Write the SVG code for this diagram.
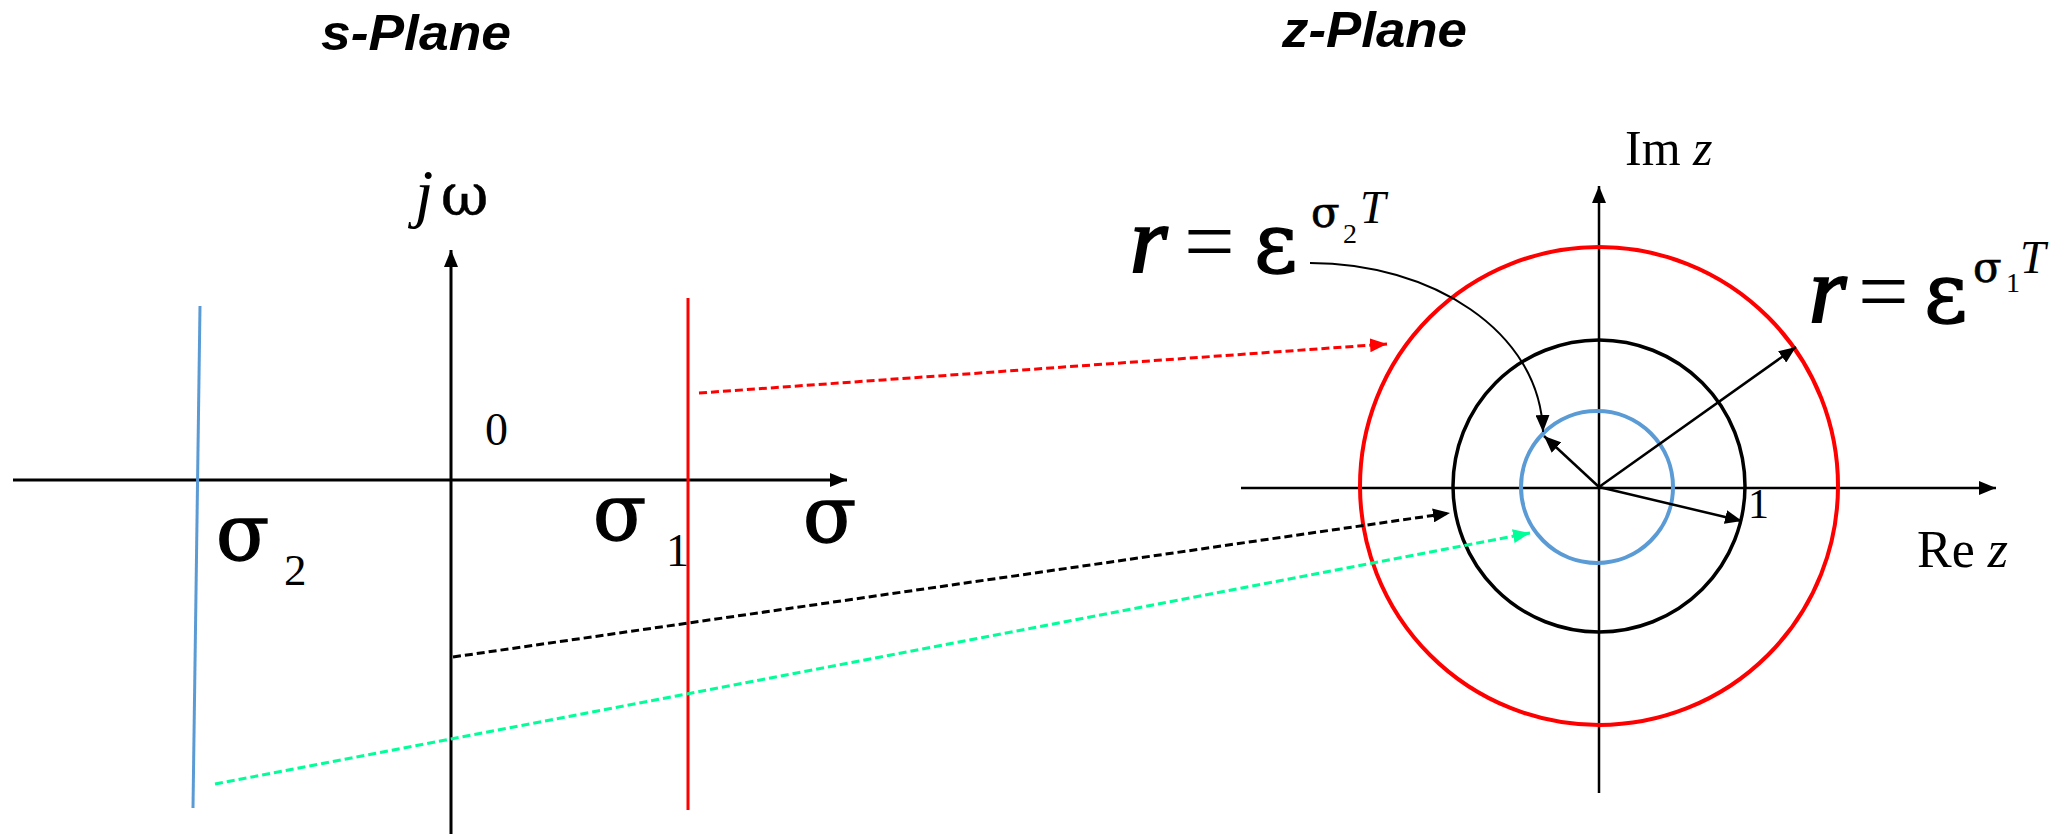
<svg xmlns="http://www.w3.org/2000/svg" width="2062" height="834" viewBox="0 0 2062 834">
<style>
.title{font-family:"Liberation Sans",Arial,sans-serif;font-weight:bold;font-style:italic;font-size:50px;fill:#000}
.m{font-family:"Liberation Serif","Times New Roman",serif;fill:#000}
.g{font-family:"DejaVu Serif","Liberation Serif",serif;fill:#000;stroke:#000;stroke-width:1.4}
.gs{font-family:"DejaVu Serif","Liberation Serif",serif;fill:#000;stroke:#000;stroke-width:0.6}
.it{font-style:italic}
.rr{font-family:"Liberation Serif","Times New Roman",serif;font-style:italic;fill:#000;stroke:#000;stroke-width:2.2}
.ax{stroke:#000;stroke-width:3;fill:none}
.zax{stroke:#000;stroke-width:2.5;fill:none}
.dash{stroke-width:3;stroke-dasharray:8 4;fill:none}
</style>
<defs>
<marker id="ak" markerUnits="userSpaceOnUse" markerWidth="18" markerHeight="14" refX="17" refY="7" orient="auto"><path d="M0,0 L17,7 L0,14 z" fill="#000"/></marker>
<marker id="ar" markerUnits="userSpaceOnUse" markerWidth="18" markerHeight="14" refX="17" refY="7" orient="auto"><path d="M0,0 L17,7 L0,14 z" fill="#ff0000"/></marker>
<marker id="ag" markerUnits="userSpaceOnUse" markerWidth="18" markerHeight="14" refX="17" refY="7" orient="auto"><path d="M0,0 L17,7 L0,14 z" fill="#00ff99"/></marker>
</defs>
<rect width="2062" height="834" fill="#fff"/>

<g id="s-plane">
<text class="title" x="321" y="50" textLength="190" lengthAdjust="spacingAndGlyphs">s-Plane</text>
<line class="ax" x1="13" y1="480" x2="847" y2="480" marker-end="url(#ak)"/>
<line class="ax" x1="451" y1="834" x2="451" y2="250" marker-end="url(#ak)"/>
<line x1="200" y1="306" x2="193" y2="808" stroke="#5b9bd5" stroke-width="3"/>
<line x1="688" y1="298" x2="688" y2="810" stroke="#ff0000" stroke-width="3"/>
<text class="m it" font-size="66" x="415" y="215">j</text>
<text class="gs" font-size="58" x="441" y="215">ω</text>
<text class="m" font-size="46" x="485" y="445">0</text>
<text class="g" font-size="78" x="216" y="560">σ</text>
<text class="m" font-size="45" x="284" y="585">2</text>
<text class="g" font-size="78" x="593" y="540">σ</text>
<text class="m" font-size="46" x="666" y="566">1</text>
<text class="g" font-size="78" x="803" y="542">σ</text>
</g>

<g id="z-plane">
<text class="title" x="1282" y="47" textLength="185" lengthAdjust="spacingAndGlyphs">z-Plane</text>
<line class="zax" x1="1241" y1="488" x2="1996" y2="488" marker-end="url(#ak)"/>
<line class="zax" x1="1599" y1="793" x2="1599" y2="186" marker-end="url(#ak)"/>
<circle cx="1599" cy="486" r="239" fill="none" stroke="#ff0000" stroke-width="4"/>
<circle cx="1599" cy="486" r="146" fill="none" stroke="#000" stroke-width="3.5"/>
<circle cx="1597" cy="487" r="76" fill="none" stroke="#5b9bd5" stroke-width="4"/>
<text class="m" font-size="50" x="1625" y="165">Im <tspan class="it">z</tspan></text>
<text class="m" font-size="52" x="1917" y="567">Re <tspan class="it">z</tspan></text>
<text class="m" font-size="42" x="1748" y="518">1</text>
</g>

<g id="label-r2">
<text class="rr" font-size="96" x="1130" y="272">r</text>
<text class="m" font-size="90" x="1184" y="272">=</text>
<text class="g" font-size="84" x="1254" y="272">ε</text>
<text class="gs" font-size="42" x="1311" y="227">σ</text>
<text class="m" font-size="28" x="1343" y="243">2</text>
<text class="m it" font-size="46" x="1360" y="223">T</text>
</g>

<g id="label-r1">
<text class="rr" font-size="96" x="1809" y="322">r</text>
<text class="m" font-size="90" x="1858" y="322">=</text>
<text class="g" font-size="84" x="1924" y="322">ε</text>
<text class="gs" font-size="42" x="1973" y="282">σ</text>
<text class="m" font-size="28" x="2006" y="292">1</text>
<text class="m it" font-size="46" x="2020" y="273">T</text>
</g>

<g id="connectors">
<line class="dash" x1="699" y1="393" x2="1387" y2="344" stroke="#ff0000" marker-end="url(#ar)"/>
<line class="dash" x1="453" y1="657" x2="1450" y2="513" stroke="#000" marker-end="url(#ak)"/>
<line class="dash" x1="215" y1="784" x2="1530" y2="533" stroke="#00ff99" marker-end="url(#ag)"/>
<line x1="1599" y1="487" x2="1796" y2="347" stroke="#000" stroke-width="2.5" marker-end="url(#ak)"/>
<line x1="1599" y1="487" x2="1544" y2="436" stroke="#000" stroke-width="2.5" marker-end="url(#ak)"/>
<line x1="1599" y1="487" x2="1742" y2="521" stroke="#000" stroke-width="2.5" marker-end="url(#ak)"/>
<path d="M1310,263 C1430,263 1540,330 1543,432" fill="none" stroke="#000" stroke-width="2" marker-end="url(#ak)"/>
</g>
</svg>
